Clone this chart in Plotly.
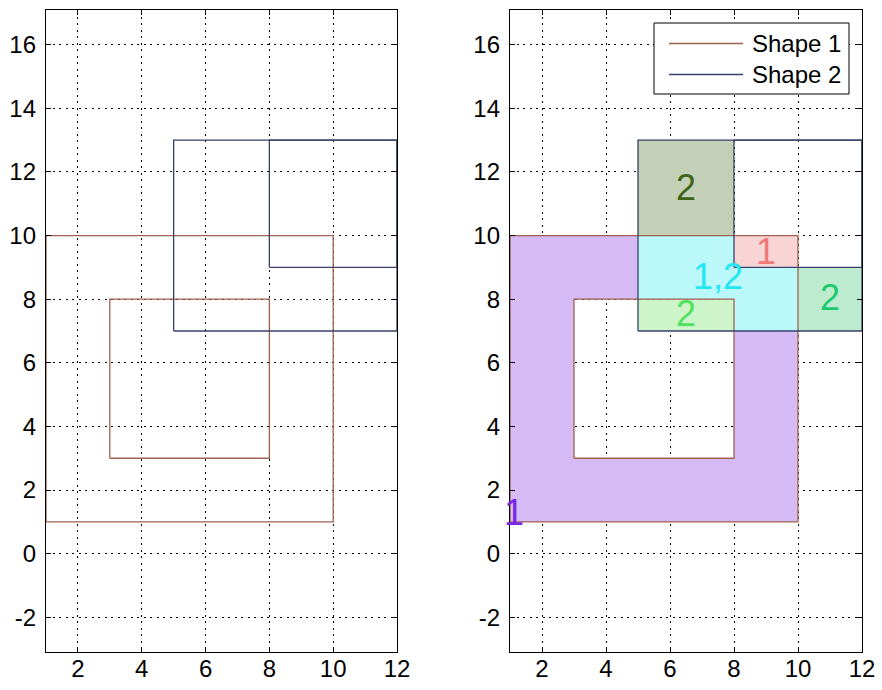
import plotly.graph_objects as go

# ---- data ----
shape1_outer = [(1, 1), (10, 1), (10, 10), (1, 10)]
shape1_hole = [(3, 3), (8, 3), (8, 8), (3, 8)]
shape2_outer = [(5, 7), (12, 7), (12, 13), (5, 13)]
shape2_hole = [(8, 9), (12, 9), (12, 13), (8, 13)]

regions = {
    "only1": [(1, 1), (10, 1), (10, 7), (8, 7), (8, 3), (3, 3), (3, 8), (5, 8), (5, 10), (1, 10)],
    "both": [(5, 8), (8, 8), (8, 7), (10, 7), (10, 9), (8, 9), (8, 10), (5, 10)],
    "pink1": [(8, 9), (10, 9), (10, 10), (8, 10)],
    "lg2": [(5, 7), (8, 7), (8, 8), (5, 8)],
    "olive2": [(5, 10), (8, 10), (8, 13), (5, 13)],
    "mg2": [(10, 7), (12, 7), (12, 9), (10, 9)],
}
region_fill = {
    "only1": "rgb(213,186,245)",
    "both": "rgb(186,248,250)",
    "pink1": "rgb(248,212,212)",
    "lg2": "rgb(206,245,201)",
    "olive2": "rgb(195,207,183)",
    "mg2": "rgb(189,235,208)",
}
labels = [  # text, x, y, color
    ("1", 1.12, 1.3, "rgb(120,40,230)"),
    ("2", 6.5, 11.5, "rgb(60,100,20)"),
    ("1", 9.0, 9.5, "rgb(240,120,120)"),
    ("1,2", 7.5, 8.7, "rgb(35,230,245)"),
    ("2", 6.5, 7.55, "rgb(80,225,95)"),
    ("2", 11.0, 8.05, "rgb(30,200,110)"),
]
series_names = ["Shape 1", "Shape 2"]
series_colors = ["rgb(160,98,80)", "rgb(55,65,105)"]
xticks = [2, 4, 6, 8, 10, 12]
xticklabels = ["2", "4", "6", "8", "10", "12"]
yticks = [-2, 0, 2, 4, 6, 8, 10, 12, 14, 16]
yticklabels = ["-2", "0", "2", "4", "6", "8", "10", "12", "14", "16"]
xrange_ = [1, 12]
yrange_ = [-3.09, 17.09]


def ring(pts):
    xs = [p[0] for p in pts] + [pts[0][0]]
    ys = [p[1] for p in pts] + [pts[0][1]]
    return xs, ys


def outline(polys):
    xs, ys = [], []
    for p in polys:
        a, b = ring(p)
        xs += a + [None]
        ys += b + [None]
    return xs, ys


fig = go.Figure()

# left subplot: outlines only
for name, col, polys in [(series_names[0], series_colors[0], [shape1_outer, shape1_hole]),
                         (series_names[1], series_colors[1], [shape2_outer, shape2_hole])]:
    xs, ys = outline(polys)
    fig.add_trace(go.Scatter(x=xs, y=ys, mode="lines", line=dict(color=col, width=1.3),
                             xaxis="x", yaxis="y", showlegend=False, hoverinfo="skip"))

# right subplot: filled regions
for key, pts in regions.items():
    xs, ys = ring(pts)
    fig.add_trace(go.Scatter(x=xs, y=ys, mode="lines", fill="toself",
                             fillcolor=region_fill[key], line=dict(width=0, color=region_fill[key]),
                             xaxis="x2", yaxis="y2", showlegend=False, hoverinfo="skip"))
for name, col, polys in [(series_names[0], series_colors[0], [shape1_outer, shape1_hole]),
                         (series_names[1], series_colors[1], [shape2_outer, shape2_hole])]:
    xs, ys = outline(polys)
    fig.add_trace(go.Scatter(x=xs, y=ys, mode="lines", line=dict(color=col, width=1.3),
                             xaxis="x2", yaxis="y2", showlegend=False, hoverinfo="skip"))

W, H = 882, 690
font_family = "Liberation Sans, Arial, sans-serif"

axis_common = dict(
    showline=True, linecolor="black", linewidth=1.3, mirror="ticks",
    ticks="inside", ticklen=5, tickcolor="black", tickwidth=1,
    showgrid=True, gridcolor="black", gridwidth=1, griddash="2px,4.5px",
    zeroline=False, automargin=False,
    tickfont=dict(family=font_family, size=24, color="black"),
)
xax = dict(range=xrange_, tickmode="array", tickvals=xticks, ticktext=xticklabels,
           ticklabelstandoff=-5, **axis_common)
yax = dict(range=yrange_, tickmode="array", tickvals=yticks, ticktext=yticklabels,
           ticklabelstandoff=4, **axis_common)

fig.update_layout(
    width=W, height=H, margin=dict(l=0, r=0, t=0, b=0, autoexpand=False),
    paper_bgcolor="white", plot_bgcolor="white", showlegend=False,
    xaxis=dict(domain=[46 / W, 397 / W], anchor="y", **xax),
    yaxis=dict(domain=[1 - 652 / H, 1 - 10 / H], anchor="x", **yax),
    xaxis2=dict(domain=[510 / W, 862 / W], anchor="y2", **xax),
    yaxis2=dict(domain=[1 - 652 / H, 1 - 10 / H], anchor="x2", **yax),
)

for txt, x, y, col in labels:
    fig.add_annotation(x=x, y=y, xref="x2", yref="y2", text=txt, showarrow=False,
                       font=dict(family=font_family, size=36, color=col))

# manual legend (box + sample lines + text)
fig.add_shape(type="rect", xref="paper", yref="paper",
              x0=654 / W, x1=849 / W, y0=1 - 94 / H, y1=1 - 23 / H,
              line=dict(color="black", width=1), fillcolor="white")
for i, (name, col) in enumerate(zip(series_names, series_colors)):
    ypx = 43.5 + 31 * i
    fig.add_shape(type="line", xref="paper", yref="paper",
                  x0=669 / W, x1=743 / W, y0=1 - ypx / H, y1=1 - ypx / H,
                  line=dict(color=col, width=1.3))
    fig.add_annotation(x=750 / W, y=1 - ypx / H, xref="paper", yref="paper", text=name,
                       showarrow=False, xanchor="left", yanchor="middle",
                       font=dict(family=font_family, size=24, color="black"))

fig.write_html("out.html")
